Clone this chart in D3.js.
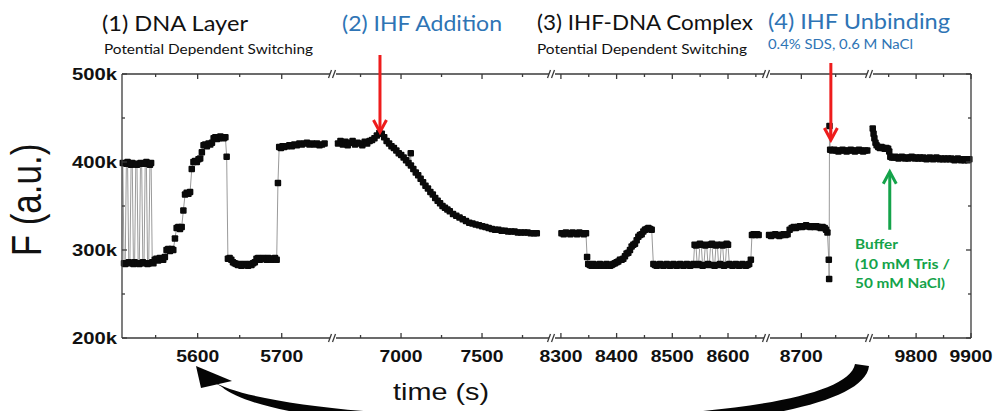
<!DOCTYPE html>
<html><head><meta charset="utf-8">
<script src="https://cdn.jsdelivr.net/npm/d3@7/dist/d3.min.js"></script>
<style>
html,body{margin:0;padding:0;background:#fff;}
svg{display:block;}
</style></head><body>
<svg id="chart" width="994" height="411"></svg>
<script>
// ---------------- DATA ----------------
// broken x axis: five time windows (s)
const segDomains = [[5510,5761],[6580,7932],[8284,8670],[8650,8800],[9716,9900]];
const majorTicks = [[5600,5700],[7000,7500],[8300,8400,8500,8600],[8700],[9800,9900]];
const minorTicks = [[5550,5650],[6750,7250,7750],[8350,8450,8550,8650],[8750],[9750,9850]];
const yMajor = [200,300,400,500];   // F in k (a.u.)
const yMinor = [250,350,450];

// [time (s), F (k a.u.)]
const seg1Data = [
[5511,399],[5512.4,285],[5513.8,284],[5515.2,398],[5516.6,400],[5518,286],[5519.4,285],[5520.8,397],[5522.2,399],[5523.6,284],
[5525,286],[5526.4,398],[5527.8,397],[5529.2,285],[5530.6,284],[5532,399],[5533.4,398],[5534.8,286],[5536.2,285],[5537.6,398],
[5539,400],[5540.4,284],[5541.8,285],[5543.2,397],[5544.6,399],[5546,286],[5547.4,285],
[5549,289],[5551,290],[5553,288],[5555,291],[5557,290],[5559,289],[5561,292],[5563,300],[5565,301],[5567,299],[5569,301],[5571,300],
[5573,313],[5575,325],[5577,326],[5579,324],[5581,326],[5583,345],[5585,363],[5587,365],[5589,364],[5591,366],[5593,392],
[5595,400],[5597,401],[5599,400],[5601,403],[5603,404],[5605,411],[5607,419],[5609,420],[5611,418],[5613,421],[5615,420],[5617,422],
[5619,427],[5621,428],[5623,426],[5625,427],[5627,429],[5629,428],[5631,427],[5633,428],[5634.5,406],
[5636,290],[5638,291],[5640,289],[5642,286],[5644,285],[5646,284],[5648,283],[5650,284],[5652,282],[5654,283],[5656,284],[5658,283],
[5660,282],[5662,284],[5664,283],[5666,285],[5668,286],[5670,290],[5672,291],[5674,289],[5676,290],[5678,291],[5680,290],[5682,289],
[5684,291],[5686,290],[5688,289],[5690,290],[5692,291],[5694,289],[5695.5,376],
[5697,417],[5699,416],[5701,418],[5703,417],[5706,418],[5709,419],[5712,418],[5715,420],[5718,419],[5721,421],[5724,420],[5727,421],
[5730,422],[5733,420],[5736,421],[5739,420],[5742,421],[5745,419],[5748,420],[5751,421]
];
const seg2Data = [
[6611,421],[6626,424],[6641,420],[6656,423],[6671,419],[6686,422],[6701,424],[6716,420],[6731,422],[6746,421],
[6761,419],[6776,423],[6791,421],[6806,424],[6821,425],[6836,427],[6851,430],[6866,433],[6881,432],[6896,428],
[6911,424],[6926,421],[6941,418],[6956,416],[6971,413],[6986,410],[7001,408],[7016,405],[7031,402],[7046,399],
[7060,410],[7061,396],[7076,392],[7091,388],[7106,385],[7121,381],[7136,377],[7151,373],[7166,370],[7181,366],
[7196,363],[7211,359],[7226,356],[7241,353],[7256,350],[7271,348],[7286,346],[7301,344],[7321,341],[7341,339],
[7361,337],[7381,335],[7401,333],[7421,331],[7441,330],[7461,329],[7481,328],[7501,327],[7521,326],[7541,325],
[7561,324],[7581,323],[7601,323],[7621,322],[7641,322],[7661,321],[7681,321],[7701,321],[7721,320],[7741,320],
[7761,320],[7781,320],[7801,319],[7821,319],[7838,319]
];
const seg3Data = [
[8301,319],[8305,318],[8309,320],[8313,319],[8317,318],[8321,320],[8325,319],[8329,318],[8333,320],[8337,319],[8341,318],[8345,319],
[8347,292],[8349,284],[8352,283],[8355,282],[8358,284],[8361,283],[8364,282],[8367,283],[8370,284],[8373,282],[8376,283],[8379,282],
[8382,284],[8385,283],[8388,282],[8391,283],[8394,284],[8397,285],[8400,286],[8403,287],[8406,289],[8409,289],[8412,290],[8415,293],
[8418,296],[8421,297],[8424,300],[8427,304],[8430,306],[8433,307],[8436,311],[8439,315],[8442,317],[8445,318],[8448,321],[8451,323],
[8454,324],[8457,325],[8460,324],[8463,323],
[8466,284],[8469,283],[8472,282],[8475,283],[8478,284],[8481,283],[8484,282],[8487,283],[8490,284],[8493,283],[8496,282],[8499,283],
[8502,284],[8505,283],[8508,282],[8511,283],[8514,284],[8517,283],[8520,282],[8523,283],[8526,284],[8529,283],[8532,282],[8535,283],[8538,284],
[8540,306],[8542.4,305],[8544.8,283],[8547.2,284],[8549.6,307],[8552,306],[8554.4,282],[8556.8,283],[8559.2,305],[8561.6,306],
[8564,284],[8566.4,283],[8568.8,306],[8571.2,307],[8573.6,283],[8576,282],[8578.4,305],[8580.8,306],[8583.2,283],[8585.6,284],
[8588,306],[8590.4,305],[8592.8,282],[8595.2,283],[8597.6,307],[8600,306],[8602.4,284],[8604.8,283],
[8608,282],[8611,283],[8614,284],[8617,283],[8620,282],[8623,283],[8626,284],[8629,283],[8632,282],[8635,283],[8638,284],
[8641,289],[8643,317],[8646,318],[8649,317],[8652,318],[8655,317]
];
const seg4Data = [
[8653,317],[8656,316],[8659,317],[8662,318],[8665,317],[8668,316],[8671,317],[8674,318],[8677,317],[8680,318],
[8683,323],[8686,325],[8689,326],[8692,325],[8695,326],[8698,327],[8701,326],[8704,327],[8707,328],[8710,327],
[8713,326],[8716,327],[8719,326],[8722,327],[8725,326],[8728,325],[8731,326],[8734,325],[8736,323],[8738,320],
[8740,289],[8740.5,267],[8741,441],[8742,414],[8745,413],[8748,414],[8751,413],[8754,412],[8757,413],[8760,414],
[8763,413],[8766,412],[8769,413],[8772,414],[8775,413],[8778,412],[8781,413],[8784,414],[8787,413],[8790,412],
[8793,413],[8796,413]
];
const seg5Data = [
[9721,438],[9722.5,432],[9724,427],[9726,422],[9728,419],[9731,417],[9734,416],[9737,417],[9740,416],[9743,415],
[9746,416],[9749,415],[9751,412],[9753,406],[9756,405],[9759,405],[9762,406],[9765,405],[9768,404],[9771,405],
[9774,406],[9777,405],[9780,404],[9783,405],[9786,404],[9789,405],[9792,406],[9795,405],[9798,404],[9801,405],
[9804,404],[9807,405],[9810,404],[9813,405],[9816,404],[9819,403],[9822,404],[9825,405],[9828,404],[9831,403],
[9834,404],[9837,405],[9840,404],[9843,403],[9846,404],[9849,403],[9852,404],[9855,403],[9858,404],[9861,403],
[9864,404],[9867,403],[9870,402],[9873,403],[9876,404],[9879,403],[9882,402],[9885,403],[9888,402],[9891,403],
[9894,402],[9897,403]
];
const segData = [seg1Data, seg2Data, seg3Data, seg4Data, seg5Data];

// annotations: [segment index, time, F at tip]
const redArrows = [[1, 6870, 434], [3, 8743, 425]];
const greenArrow = [4, 9752, 389, 323];

// ---------------- LAYOUT ----------------
const svg = d3.select("#chart");
const breaksPx = [122, 333, 552, 767, 870, 971];
const plotTop = 74, plotBottom = 338;
const axisColor = "#3a3a3a";

const y = d3.scaleLinear().domain([200, 500]).range([plotBottom, plotTop]);
const xs = segDomains.map((d, i) => d3.scaleLinear().domain(d).range([breaksPx[i], breaksPx[i+1]]));

const g = svg.append("g");

// data lines and markers
segData.forEach((data, i) => {
  const x = xs[i];
  const line = d3.line().x(d => x(d[0])).y(d => y(d[1]));
  g.append("path").attr("d", line(data)).attr("fill", "none")
    .attr("stroke", "#9a9a9a").attr("stroke-width", 1);
  const ms = 6.5;
  g.selectAll(null).data(data).enter().append("rect")
    .attr("x", d => x(d[0]) - ms/2).attr("y", d => y(d[1]) - ms/2)
    .attr("width", ms).attr("height", ms).attr("rx", 1).attr("fill", "#0a0a0a");
});

// frame: top & bottom with breaks
const ax = svg.append("g").attr("stroke", axisColor).attr("stroke-width", 1.3).attr("fill", "none");
xs.forEach((x, i) => {
  const [a, b] = x.range();
  const a2 = a + (i > 0 ? 3 : 0), b2 = b - (i < xs.length - 1 ? 3 : 0);
  [plotTop, plotBottom].forEach(yy => ax.append("line").attr("x1", a2).attr("x2", b2).attr("y1", yy).attr("y2", yy));
  majorTicks[i].forEach(t => {
    const px = x(t);
    ax.append("line").attr("x1", px).attr("x2", px).attr("y1", plotBottom).attr("y2", plotBottom - 5);
    ax.append("line").attr("x1", px).attr("x2", px).attr("y1", plotTop).attr("y2", plotTop + 5);
  });
  minorTicks[i].forEach(t => {
    const px = x(t);
    ax.append("line").attr("x1", px).attr("x2", px).attr("y1", plotBottom).attr("y2", plotBottom - 3);
    ax.append("line").attr("x1", px).attr("x2", px).attr("y1", plotTop).attr("y2", plotTop + 3);
  });
});
// break marks
breaksPx.slice(1, -1).forEach(b => {
  [plotTop, plotBottom].forEach(yy => {
    ax.append("line").attr("x1", b - 4.5).attr("y1", yy + 4).attr("x2", b - 1.5).attr("y2", yy - 4);
    ax.append("line").attr("x1", b - 0.5).attr("y1", yy + 4).attr("x2", b + 2.5).attr("y2", yy - 4);
  });
});
// left & right axes
const L = breaksPx[0], R = breaksPx[breaksPx.length - 1];
ax.append("line").attr("x1", L).attr("x2", L).attr("y1", plotTop).attr("y2", plotBottom);
ax.append("line").attr("x1", R).attr("x2", R).attr("y1", plotTop).attr("y2", plotBottom);
yMajor.forEach(v => {
  ax.append("line").attr("x1", L).attr("x2", L + 5).attr("y1", y(v)).attr("y2", y(v));
  ax.append("line").attr("x1", R).attr("x2", R - 5).attr("y1", y(v)).attr("y2", y(v));
});
yMinor.forEach(v => {
  ax.append("line").attr("x1", L).attr("x2", L + 3).attr("y1", y(v)).attr("y2", y(v));
  ax.append("line").attr("x1", R).attr("x2", R - 3).attr("y1", y(v)).attr("y2", y(v));
});

// tick labels
const tl = svg.append("g").attr("font-family", "'Liberation Sans', Arial, sans-serif").attr("fill", "#111");
xs.forEach((x, i) => {
  majorTicks[i].forEach(t => {
    tl.append("text").attr("x", x(t)).attr("y", 362).attr("text-anchor", "middle")
      .attr("font-size", 17).attr("font-weight", "bold")
      .attr("textLength", 43).attr("lengthAdjust", "spacingAndGlyphs").text(t);
  });
});
yMajor.forEach(v => {
  tl.append("text").attr("x", 117).attr("y", y(v) + 6).attr("text-anchor", "end")
    .attr("font-size", 16).attr("font-weight", "bold")
    .attr("textLength", 45).attr("lengthAdjust", "spacingAndGlyphs").text(v + "k");
});

// axis titles
svg.append("text").attr("transform", "translate(41,200) scale(1.2,1) rotate(-90)")
  .attr("text-anchor", "middle").attr("font-family", "'Liberation Sans', Arial, sans-serif")
  .attr("font-size", 35).attr("fill", "#111").text("F (a.u.)");
svg.append("text").attr("x", 441).attr("y", 400).attr("text-anchor", "middle")
  .attr("font-family", "'Liberation Sans', Arial, sans-serif").attr("font-size", 24)
  .attr("textLength", 96).attr("lengthAdjust", "spacingAndGlyphs").attr("fill", "#111").text("time (s)");

// headings
const blue = "#2e74b5";
const head = svg.append("g").attr("font-family", "Lato, 'Open Sans', sans-serif");
function htext(x, yy, size, fill, len, str, weight) {
  head.append("text").attr("x", x).attr("y", yy).attr("font-size", size).attr("fill", fill)
    .attr("font-weight", weight || "normal")
    .attr("textLength", len).attr("lengthAdjust", "spacingAndGlyphs").text(str);
}
htext(102, 31, 21, "#111", 146, "(1)  DNA Layer");
htext(104, 54, 12.5, "#111", 209, "Potential Dependent Switching");
htext(342, 31, 21, blue, 160, "(2) IHF Addition");
htext(537, 30, 21, "#111", 216, "(3) IHF-DNA Complex");
htext(537, 54, 12.5, "#111", 210, "Potential Dependent Switching");
htext(768, 29, 21, blue, 182, "(4) IHF Unbinding");
htext(768, 49, 12.5, blue, 145, "0.4% SDS, 0.6 M NaCl");

// arrows
const red = "#ee1c1c", green = "#14a34a";
redArrows.forEach(([si, t, v], k) => {
  const px = xs[si](t), tipY = y(v);
  const y0 = k === 0 ? 55 : 63;
  svg.append("line").attr("x1", px).attr("x2", px).attr("y1", y0).attr("y2", tipY - 1)
    .attr("stroke", red).attr("stroke-width", 3);
  svg.append("path").attr("d", `M${px-6.5},${tipY-12} L${px},${tipY} L${px+6.5},${tipY-12}`)
    .attr("fill", "none").attr("stroke", red).attr("stroke-width", 3);
});
{
  const [si, t, vTip, vTail] = greenArrow;
  const px = xs[si](t), tipY = y(vTip), tailY = y(vTail);
  svg.append("line").attr("x1", px).attr("x2", px).attr("y1", tailY).attr("y2", tipY + 1)
    .attr("stroke", green).attr("stroke-width", 3);
  svg.append("path").attr("d", `M${px-6.5},${tipY+12} L${px},${tipY} L${px+6.5},${tipY+12}`)
    .attr("fill", "none").attr("stroke", green).attr("stroke-width", 3);
  const gt = svg.append("g").attr("font-family", "Lato, 'Open Sans', sans-serif").attr("font-weight", "bold")
    .attr("font-size", 13).attr("fill", green);
  gt.append("text").attr("x", 855).attr("y", 249).attr("textLength", 43).attr("lengthAdjust", "spacingAndGlyphs").text("Buffer");
  gt.append("text").attr("x", 855).attr("y", 269).attr("textLength", 95).attr("lengthAdjust", "spacingAndGlyphs").text("(10 mM Tris /");
  gt.append("text").attr("x", 855).attr("y", 288).attr("textLength", 90).attr("lengthAdjust", "spacingAndGlyphs").text("50 mM NaCl)");
}

// big curved arrow at the bottom (from right segment back to the start)
svg.append("path")
  .attr("d", "M869,366 C860,450 290,446 222,387 L212,381 C290,430 842,436 855,364 Z")
  .attr("fill", "#050505");
svg.append("path").attr("d", "M196,366 L232,381 L201,388 Z").attr("fill", "#050505");
</script>
</body></html>
